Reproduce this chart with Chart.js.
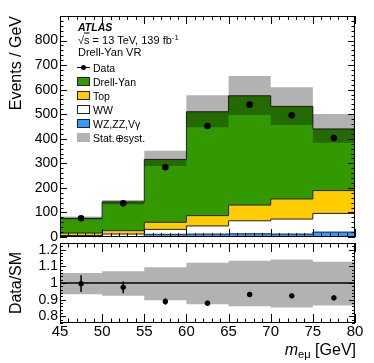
<!DOCTYPE html>
<html>
<head>
<meta charset="utf-8">
<script src="https://cdn.jsdelivr.net/npm/chart.js@4/dist/chart.umd.min.js"></script>
<style>
  body { margin: 0; background: #fff; }
  #wrap { position: relative; width: 374px; height: 363px; font-family: 'Liberation Sans', Arial, sans-serif; color: #000; }
  canvas { position: absolute; left: 0; top: 0; }
  .txt { position: absolute; white-space: nowrap; line-height: 1; transform: translateY(-50%); }
  .box { position: absolute; width: 13px; height: 9px; box-sizing: border-box; border: 1px solid #222; }
  sup { font-size: 70%; vertical-align: 0.45em; line-height: 0; }
  sub { font-size: 70%; vertical-align: -0.3em; line-height: 0; }
</style>
</head>
<body>
<div id="wrap">
  <canvas id="main" width="374" height="363"></canvas>
  <canvas id="ratio" width="374" height="363"></canvas>
  <div id="labels"></div>
</div>
<script>
// bin edges of m_emu [GeV]
var xEdges = [45, 50, 55, 60, 65, 70, 75, 80];
var xTicks = [45, 50, 55, 60, 65, 70, 75, 80];
var yMainTicks = [0, 100, 200, 300, 400, 500, 600, 700, 800];
var yRatioTicks = [0.8, 0.9, 1, 1.1, 1.2];

// expected yields per bin (events / GeV)
var dyYield = [60, 117, 256, 423, 445, 377, 251];
var topYield = [10, 14, 29, 42, 64, 82, 93];
var wwYield = [4, 10, 20, 33, 53, 61, 76];
var wzYield = [2, 2, 11, 12, 13, 12, 20];

// data
var dataCounts = [76, 137, 284, 452, 539, 496, 403];
var dataErr = [4, 5, 8, 10, 10, 10, 9];

// stat+syst band of total SM
var bandUp = [83, 151, 351, 577, 656, 610, 501];
var bandDown = [71, 132, 289, 447, 497, 456, 384];

// ratio panel
var ratioVals = [0.996, 0.974, 0.889, 0.879, 0.931, 0.923, 0.911];
var ratioErr = [0.05, 0.035, 0.02, 0.014, 0.014, 0.014, 0.015];
var ratioBandUp = [1.06, 1.07, 1.095, 1.121, 1.133, 1.141, 1.127];
var ratioBandDown = [0.933, 0.923, 0.897, 0.873, 0.861, 0.853, 0.865];

var legendLabels = ['Data', 'Drell-Yan', 'Top', 'WW', 'WZ,ZZ,V\u03b3', 'Stat.\u2295syst.'];
var colors = { dy: '#339900', top: '#ffcc00', ww: '#ffffff', wz: '#3399ff', band: 'rgba(0,0,0,0.3)', line: '#222' };

var FONT = "'Liberation Sans', Arial, sans-serif";

function add(a, b) {
  return a.map(function(v, i) { return v + b[i]; });
}
function steps(vals) {
  return xEdges.map(function(x, i) {
    return { x: x, y: vals[Math.min(i, vals.length - 1)] };
  });
}
function centers(vals) {
  return vals.map(function(v, i) {
    return { x: (xEdges[i] + xEdges[i + 1]) / 2, y: v };
  });
}

var cumWZ = wzYield;
var cumWW = add(cumWZ, wwYield);
var cumTop = add(cumWW, topYield);
var cumDY = add(cumTop, dyYield);

function histLine(vals, color, order) {
  return {
    data: steps(vals), stepped: true, borderColor: colors.line, borderWidth: 1,
    backgroundColor: color, fill: 'origin', pointRadius: 0, order: order
  };
}

// inward ticks on all four sides + frame
function framePlugin(tk) {
  return {
    id: 'frame',
    afterDraw: function(chart) {
      var ctx = chart.ctx, a = chart.chartArea, xs = chart.scales.x, ys = chart.scales.y;
      ctx.save();
      ctx.strokeStyle = '#000';
      ctx.lineWidth = 1;
      ctx.beginPath();
      var k, v, p, len;
      for (k = Math.ceil(xs.min / tk.xMinor - 1e-6); k <= Math.floor(xs.max / tk.xMinor + 1e-6); k++) {
        v = k * tk.xMinor;
        p = Math.round(xs.getPixelForValue(v)) + 0.5;
        len = Math.abs(v / tk.xMajor - Math.round(v / tk.xMajor)) < 1e-6 ? tk.xLen : tk.xLen / 2;
        ctx.moveTo(p, a.bottom); ctx.lineTo(p, a.bottom - len);
        ctx.moveTo(p, a.top); ctx.lineTo(p, a.top + len);
      }
      for (k = Math.ceil(ys.min / tk.yMinor - 1e-6); k <= Math.floor(ys.max / tk.yMinor + 1e-6); k++) {
        v = k * tk.yMinor;
        p = Math.round(ys.getPixelForValue(v)) + 0.5;
        len = Math.abs(v / tk.yMajor - Math.round(v / tk.yMajor)) < 1e-6 ? tk.yLen : tk.yLen / 2;
        ctx.moveTo(a.left, p); ctx.lineTo(a.left + len, p);
        ctx.moveTo(a.right, p); ctx.lineTo(a.right - len, p);
      }
      ctx.stroke();
      ctx.strokeRect(Math.round(a.left) + 0.5, Math.round(a.top) + 0.5, Math.round(a.width) - 1, Math.round(a.height) - 1);
      ctx.restore();
    }
  };
}

function errorPlugin(vals, errs) {
  return {
    id: 'errors',
    afterDatasetsDraw: function(chart) {
      var ctx = chart.ctx, xs = chart.scales.x, ys = chart.scales.y;
      ctx.save();
      ctx.strokeStyle = '#000';
      ctx.lineWidth = 1.5;
      ctx.beginPath();
      vals.forEach(function(v, i) {
        var px = xs.getPixelForValue((xEdges[i] + xEdges[i + 1]) / 2);
        ctx.moveTo(px, ys.getPixelForValue(v - errs[i]));
        ctx.lineTo(px, ys.getPixelForValue(v + errs[i]));
      });
      ctx.stroke();
      ctx.restore();
    }
  };
}

function yAxis(min, max, ticks, title, align) {
  return {
    min: min, max: max,
    afterBuildTicks: function(s) { s.ticks = ticks.map(function(v) { return { value: v }; }); },
    afterFit: function(s) { s.width = 60; },
    grid: { display: false, drawTicks: false }, border: { display: false },
    ticks: {
      padding: 2, color: '#000', font: { family: FONT, size: 14 },
      callback: function(v) { return String(v); }
    },
    title: { display: true, text: title, align: align, color: '#000', font: { family: FONT, size: 16 }, padding: { top: 7, bottom: 0 } }
  };
}

new Chart(document.getElementById('main'), {
  type: 'line',
  data: {
    datasets: [
      histLine(cumDY, colors.dy, 10),
      histLine(cumTop, colors.top, 9),
      histLine(cumWW, colors.ww, 8),
      histLine(cumWZ, colors.wz, 7),
      { data: steps(bandUp), stepped: true, borderWidth: 0, pointRadius: 0, fill: false, order: 3 },
      { data: steps(bandDown), stepped: true, borderWidth: 0, pointRadius: 0, fill: '-1', backgroundColor: colors.band, order: 2 },
      { data: centers(dataCounts), showLine: false, pointRadius: 3.3, pointBackgroundColor: '#000', pointBorderWidth: 0, order: 1 }
    ]
  },
  options: {
    responsive: false, animation: false,
    layout: { padding: { left: 0, right: 19, top: 16, bottom: 126 } },
    plugins: { legend: { display: false }, tooltip: { enabled: false } },
    scales: {
      x: { type: 'linear', min: 45, max: 80, display: false },
      y: yAxis(0, 900, yMainTicks, 'Events / GeV', 'end')
    }
  },
  plugins: [framePlugin({ xMinor: 1, xMajor: 5, xLen: 8, yMinor: 20, yMajor: 100, yLen: 7 }), errorPlugin(dataCounts, dataErr)]
});

new Chart(document.getElementById('ratio'), {
  type: 'line',
  data: {
    datasets: [
      { data: steps(ratioBandUp), stepped: true, borderWidth: 0, pointRadius: 0, fill: false, order: 5 },
      { data: steps(ratioBandDown), stepped: true, borderWidth: 0, pointRadius: 0, fill: '-1', backgroundColor: colors.band, order: 4 },
      { data: [{ x: xEdges[0], y: 1 }, { x: xEdges[xEdges.length - 1], y: 1 }], borderColor: '#000', borderWidth: 1.3, pointRadius: 0, fill: false, order: 3 },
      { data: centers(ratioVals), showLine: false, pointRadius: 2.7, pointBackgroundColor: '#000', pointBorderWidth: 0, order: 1 }
    ]
  },
  options: {
    responsive: false, animation: false,
    layout: { padding: { left: 0, right: 19, top: 243, bottom: 0 } },
    plugins: { legend: { display: false }, tooltip: { enabled: false } },
    scales: {
      x: {
        type: 'linear', min: 45, max: 80,
        afterBuildTicks: function(s) { s.ticks = xTicks.map(function(v) { return { value: v }; }); },
        afterFit: function(s) { s.height = 40; },
        grid: { display: false, drawTicks: false }, border: { display: false },
        ticks: { padding: 0, maxRotation: 0, autoSkip: false, color: '#000', font: { family: FONT, size: 15 } }
      },
      y: yAxis(0.76, 1.24, yRatioTicks, 'Data/SM', 'center')
    }
  },
  plugins: [framePlugin({ xMinor: 1, xMajor: 5, xLen: 9, yMinor: 0.02, yMajor: 0.1, yLen: 6 }), errorPlugin(ratioVals, ratioErr)]
});

// text labels and legend
var html = '';
html += '<div class="txt" style="left:78px;top:27px;font-size:10.5px;font-weight:bold;font-style:italic">ATLAS</div>';
html += '<div class="txt" style="left:78px;top:39.5px;font-size:11px">\u221a<span style="text-decoration:overline">s</span> = 13 TeV, 139 fb<sup>-1</sup></div>';
html += '<div class="txt" style="left:78px;top:51.5px;font-size:11px">Drell-Yan VR</div>';
var boxColors = [null, colors.dy, colors.top, colors.ww, colors.wz, '#b3b3b3'];
legendLabels.forEach(function(label, i) {
  var cy = 67.7 + i * 14;
  if (i === 0) {
    html += '<div style="position:absolute;left:77px;top:' + (cy - 0.75) + 'px;width:13px;height:1.5px;background:#000"></div>';
    html += '<div style="position:absolute;left:' + (83.5 - 2.7) + 'px;top:' + (cy - 2.7) + 'px;width:5.4px;height:5.4px;border-radius:50%;background:#000"></div>';
  } else {
    var border = i === 5 ? 'border:none;' : '';
    html += '<div class="box" style="left:77px;top:' + (cy - 4.5) + 'px;background:' + boxColors[i] + ';' + border + '"></div>';
  }
  html += '<div class="txt" style="left:93px;top:' + cy + 'px;font-size:10.5px">' + label + '</div>';
});
html += '<div class="txt" style="right:18px;top:350px;font-size:16px"><i>m</i><sub>e\u03bc</sub> [GeV]</div>';
document.getElementById('labels').innerHTML = html;
</script>
</body>
</html>
